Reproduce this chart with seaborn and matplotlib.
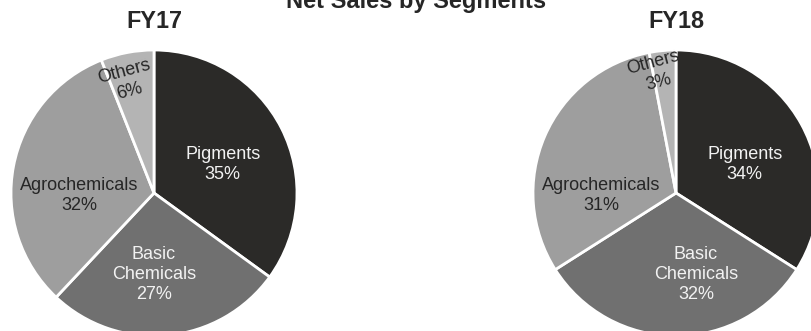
import numpy as np
import matplotlib
matplotlib.use("Agg")
import matplotlib.pyplot as plt
import seaborn as sns

# Segment shares of net sales (%)
segments = ["Pigments", "Basic\nChemicals", "Agrochemicals", "Others"]
fy17_share = [35, 27, 32, 6]
fy18_share = [34, 32, 31, 3]
years = ["FY17", "FY18"]
title = "Net Sales by Segments"

sns.set_theme(style="white")
plt.rcParams["font.family"] = ["Liberation Sans", "DejaVu Sans"]

seg_colors = ["#2b2a28", "#707070", "#9e9e9e", "#b4b4b4"]
text_colors = ["#f2f2f2", "#f2f2f2", "#262626", "#262626"]
label_rot = [0, 0, 0, 15]
# label anchors in units of the pie radius, relative to the pie centre
label_pos = {
    "FY17": [(0.48, 0.20), (0.0, -0.57), (-0.52, -0.02), (-0.19, 0.78)],
    "FY18": [(0.48, 0.20), (0.14, -0.57), (-0.52, -0.02), (-0.14, 0.84)],
}

W, H = 812, 331
fig = plt.figure(figsize=(W / 100, H / 100), dpi=100)
fig.patch.set_facecolor("white")

centers = [(154, 193), (676, 193)]
R = 143

for (cx, cy), year, shares in zip(centers, years, [fy17_share, fy18_share]):
    ax = fig.add_axes([(cx - R) / W, (H - cy - R) / H, 2 * R / W, 2 * R / H])
    wedges, _ = ax.pie(
        shares,
        colors=seg_colors,
        startangle=90,
        counterclock=False,
        radius=1,
        wedgeprops=dict(edgecolor="white", linewidth=2),
    )
    ax.set_xlim(-1, 1)
    ax.set_ylim(-1, 1)
    ax.set_axis_off()
    for (lx, ly), name, val, tc, rot in zip(label_pos[year], segments, shares,
                                             text_colors, label_rot):
        ax.text(lx, ly, f"{name}\n{val}%",
                ha="center", va="center", color=tc, fontsize=13,
                rotation=rot, rotation_mode="anchor", linespacing=1.25)
    fig.text(cx / W, (H - 28.3) / H, year, ha="center", va="baseline",
             fontsize=16.8, fontweight="bold", color="#262626")

fig.text(416 / W, (H - 8) / H, title, ha="center", va="baseline",
         fontsize=17, fontweight="bold", color="#262626")

fig.savefig("out.png", dpi=100)
